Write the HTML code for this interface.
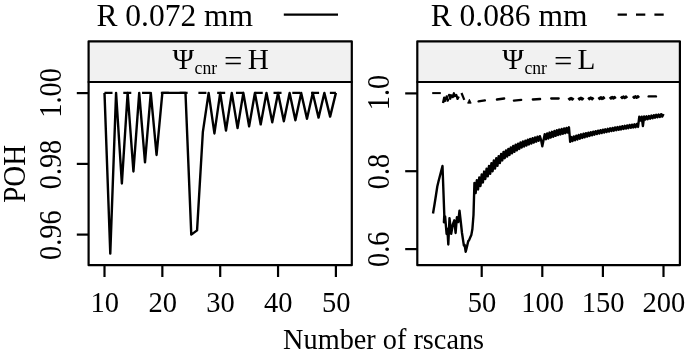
<!DOCTYPE html>
<html><head><meta charset="utf-8"><title>POH vs number of rscans</title>
<style>
html,body{margin:0;padding:0;background:#fff;}
svg{display:block;}
text{font-family:"Liberation Serif", serif;fill:#000;}
.l{stroke:#000;stroke-width:2.2;fill:none;}
.b{stroke:#000;stroke-width:2.2;stroke-linejoin:round;}
.d{stroke:#000;stroke-width:2.4;fill:none;stroke-linejoin:round;stroke-linecap:butt;}
</style></head>
<body>
<svg width="685" height="355" viewBox="0 0 685 355">
<rect x="0" y="0" width="685" height="355" fill="#fff"/>
<text transform="translate(96.40,25.5) scale(0.998,1)" font-size="31.6">R 0.072 mm</text>
<line x1="283.8" y1="14.7" x2="338" y2="14.7" class="l"/>
<text transform="translate(430.70,25.5) scale(0.998,1)" font-size="31.6">R 0.086 mm</text>
<line x1="617.6" y1="14.7" x2="672" y2="14.7" class="l" stroke-dasharray="9.3 9.1"/>
<rect x="88.6" y="41.3" width="263.20" height="40.70" fill="#f1f1f1" class="b"/>
<rect x="88.6" y="82.0" width="263.20" height="183.20" fill="none" class="b"/>
<rect x="417.3" y="41.3" width="262.60" height="40.70" fill="#f1f1f1" class="b"/>
<rect x="417.3" y="82.0" width="262.60" height="183.20" fill="none" class="b"/>
<text transform="translate(0.00,68.8)" font-size="29.6"><tspan x="172.4" textLength="21.6" lengthAdjust="spacingAndGlyphs">Ψ</tspan><tspan x="194.6" dy="4.8" font-size="18.3" textLength="22.6" lengthAdjust="spacingAndGlyphs">cnr</tspan><tspan x="218.5" dy="-2.5" textLength="6" lengthAdjust="spacingAndGlyphs"> </tspan><tspan x="224.1" textLength="18.4" lengthAdjust="spacingAndGlyphs">=</tspan><tspan x="242.5" dy="-2.3" textLength="5.3" lengthAdjust="spacingAndGlyphs"> </tspan><tspan x="247.8" textLength="21.10" lengthAdjust="spacingAndGlyphs">H</tspan></text>
<text transform="translate(329.80,68.8)" font-size="29.6"><tspan x="172.4" textLength="21.6" lengthAdjust="spacingAndGlyphs">Ψ</tspan><tspan x="194.6" dy="4.8" font-size="18.3" textLength="22.6" lengthAdjust="spacingAndGlyphs">cnr</tspan><tspan x="218.5" dy="-2.5" textLength="6" lengthAdjust="spacingAndGlyphs"> </tspan><tspan x="224.1" textLength="18.4" lengthAdjust="spacingAndGlyphs">=</tspan><tspan x="242.5" dy="-2.3" textLength="5.3" lengthAdjust="spacingAndGlyphs"> </tspan><tspan x="247.8" textLength="17.85" lengthAdjust="spacingAndGlyphs">L</tspan></text>
<line x1="104.50" y1="265.2" x2="104.50" y2="277.0" class="l"/>
<text transform="translate(104.80,312.10) scale(0.957,1)" font-size="29.8" text-anchor="middle">10</text>
<line x1="162.35" y1="265.2" x2="162.35" y2="277.0" class="l"/>
<text transform="translate(162.65,312.10) scale(0.957,1)" font-size="29.8" text-anchor="middle">20</text>
<line x1="220.20" y1="265.2" x2="220.20" y2="277.0" class="l"/>
<text transform="translate(220.50,312.10) scale(0.957,1)" font-size="29.8" text-anchor="middle">30</text>
<line x1="278.05" y1="265.2" x2="278.05" y2="277.0" class="l"/>
<text transform="translate(278.35,312.10) scale(0.957,1)" font-size="29.8" text-anchor="middle">40</text>
<line x1="335.90" y1="265.2" x2="335.90" y2="277.0" class="l"/>
<text transform="translate(336.20,312.10) scale(0.957,1)" font-size="29.8" text-anchor="middle">50</text>
<line x1="481.70" y1="265.2" x2="481.70" y2="277.0" class="l"/>
<text transform="translate(482.00,312.10) scale(0.957,1)" font-size="29.8" text-anchor="middle">50</text>
<line x1="542.30" y1="265.2" x2="542.30" y2="277.0" class="l"/>
<text transform="translate(542.60,312.10) scale(0.957,1)" font-size="29.8" text-anchor="middle">100</text>
<line x1="602.90" y1="265.2" x2="602.90" y2="277.0" class="l"/>
<text transform="translate(603.20,312.10) scale(0.957,1)" font-size="29.8" text-anchor="middle">150</text>
<line x1="663.50" y1="265.2" x2="663.50" y2="277.0" class="l"/>
<text transform="translate(663.80,312.10) scale(0.957,1)" font-size="29.8" text-anchor="middle">200</text>
<line x1="76.8" y1="234.60" x2="88.6" y2="234.60" class="l"/>
<text transform="translate(61.30,235.20) scale(1.105,1) rotate(-90)" font-size="28.3" text-anchor="middle">0.96</text>
<line x1="76.8" y1="163.90" x2="88.6" y2="163.90" class="l"/>
<text transform="translate(61.30,164.50) scale(1.105,1) rotate(-90)" font-size="28.3" text-anchor="middle">0.98</text>
<line x1="76.8" y1="93.10" x2="88.6" y2="93.10" class="l"/>
<text transform="translate(61.30,92.95) scale(1.105,1) rotate(-90)" font-size="28.3" text-anchor="middle">1.00</text>
<line x1="405.2" y1="249.10" x2="417.3" y2="249.10" class="l"/>
<text transform="translate(389.40,249.30) scale(1.105,1) rotate(-90)" font-size="28.3" text-anchor="middle">0.6</text>
<line x1="405.2" y1="171.20" x2="417.3" y2="171.20" class="l"/>
<text transform="translate(389.40,171.50) scale(1.105,1) rotate(-90)" font-size="28.3" text-anchor="middle">0.8</text>
<line x1="405.2" y1="93.40" x2="417.3" y2="93.40" class="l"/>
<text transform="translate(389.40,92.50) scale(1.105,1) rotate(-90)" font-size="28.3" text-anchor="middle">1.0</text>
<text transform="translate(25.30,173.80) scale(1.09,1) rotate(-90)" font-size="29.0" text-anchor="middle">POH</text>
<text transform="translate(383.60,349.00) scale(0.972,1)" font-size="29.1" text-anchor="middle">Number of rscans</text>
<polyline points="104.50,92.90 110.28,253.64 116.07,92.90 121.86,183.49 127.64,92.90 133.43,171.51 139.21,92.90 145.00,162.34 150.78,92.90 156.56,154.94 162.35,92.90 168.13,92.90 173.92,92.90 179.70,92.90 185.49,92.90 191.28,234.61 197.06,230.38 202.84,132.20 208.63,92.90 214.42,133.44 220.20,92.90 225.99,130.55 231.77,92.90 237.56,128.11 243.34,92.90 249.12,126.42 254.91,92.90 260.69,124.41 266.48,92.90 272.26,122.33 278.05,92.90 283.84,121.31 289.62,92.90 295.40,120.32 301.19,92.90 306.98,118.74 312.76,92.90 318.55,117.65 324.33,92.90 330.12,116.62 335.90,92.90" class="d"/>
<line x1="104.50" y1="92.90" x2="335.90" y2="92.90" class="d" stroke-dasharray="8.0 10.78"/>
<polyline points="433.00,213.50 434.50,204.50 436.00,195.00 437.30,186.50 438.60,181.00 439.90,176.00 441.20,171.00 442.50,166.00 444.30,215.00 443.90,222.30 445.10,216.40 446.60,234.00 447.40,229.00 448.30,244.50 449.50,218.10 451.20,233.90 452.80,224.50 454.30,220.30 455.60,233.00 456.90,217.30 458.20,222.00 459.50,210.70 460.80,222.00 462.00,233.00 463.90,245.60 464.60,244.80 465.70,251.80 466.90,247.00 468.20,241.20 469.00,240.40 470.20,237.50 471.30,235.10 472.40,229.00 473.50,215.00 474.43,183.00 475.64,193.10 476.85,180.20 478.06,189.45 479.28,177.33 480.49,185.96 481.70,174.45 482.91,182.47 484.12,171.58 485.34,178.97 486.55,168.77 487.76,176.35 488.97,166.03 490.18,173.78 491.40,163.29 492.61,171.20 493.82,160.55 495.03,168.58 496.24,158.30 497.46,165.87 498.67,156.17 499.88,163.15 501.09,154.04 502.30,160.43 503.52,151.91 504.73,158.16 505.94,150.35 507.15,156.54 508.36,148.85 509.58,154.93 510.79,147.35 512.00,153.32 513.21,145.95 514.42,151.84 515.64,144.80 516.85,150.39 518.06,143.65 519.27,148.93 520.48,142.50 521.70,147.55 522.91,141.52 524.12,146.52 525.33,140.63 526.54,145.49 527.76,139.74 528.97,144.46 530.18,138.87 531.39,143.50 532.60,138.17 533.82,142.58 535.03,137.48 536.24,141.66 537.45,136.78 538.66,140.75 539.88,136.16 541.09,140.10 542.30,146.30 543.51,140.20 544.72,134.17 545.94,139.34 547.15,133.37 548.36,138.48 549.57,132.59 550.78,137.62 552.00,131.80 553.21,136.75 554.42,131.02 555.63,135.89 556.84,130.24 558.06,135.07 559.27,129.59 560.48,134.45 561.69,129.01 562.90,133.82 564.12,128.43 565.33,133.19 566.54,127.85 567.75,132.56 568.96,127.30 570.18,141.80 571.39,137.06 572.60,141.03 573.81,136.38 575.02,140.26 576.24,135.70 577.45,139.50 578.66,135.03 579.87,138.73 581.08,134.35 582.30,137.96 583.51,133.67 584.72,137.25 585.93,133.15 587.14,136.62 588.36,132.65 589.57,135.99 590.78,132.15 591.99,135.36 593.20,131.65 594.42,134.73 595.63,131.15 596.84,134.10 598.05,130.67 599.26,133.60 600.48,130.20 601.69,133.11 602.90,129.74 604.11,132.61 605.32,129.27 606.54,132.12 607.75,128.81 608.96,131.62 610.17,128.34 611.38,131.12 612.60,127.88 613.81,130.67 615.02,127.47 616.23,130.26 617.44,127.05 618.66,129.84 619.87,126.64 621.08,129.43 622.29,126.22 623.50,129.02 624.72,125.81 625.93,128.60 627.14,125.40 628.35,128.19 629.56,124.98 630.78,127.81 631.99,124.63 633.20,127.51 634.41,124.30 635.62,127.20 636.84,123.97 638.05,126.90 639.26,116.80 640.47,120.56 641.68,116.65 642.90,126.10 644.11,116.51 645.32,119.62 646.53,116.36 647.74,119.15 648.96,116.03 650.17,118.67 651.38,115.58 652.59,118.19 653.80,115.13 655.02,117.72 656.23,114.79 657.44,117.35 658.65,114.49 659.86,116.97 661.08,114.20 662.29,116.59 663.50,113.90" class="d"/>
<line x1="432.2" y1="93.1" x2="440.8" y2="93.1" stroke="#000" stroke-width="2"/>
<polyline points="443.00,103.00 444.21,97.59 445.42,101.91 446.64,96.38 447.85,100.56 449.06,94.96 450.27,98.75 451.48,93.65 452.70,97.11 453.91,93.29 455.12,97.64 456.33,95.01 457.54,98.88 458.76,96.52" fill="none" stroke="#000" stroke-width="2.3" stroke-linejoin="round" stroke-dasharray="10 2.2"/>
<line x1="461.5" y1="93.0" x2="464.3" y2="99.8" stroke="#000" stroke-width="2.2"/>
<polygon points="467.6,103.2 469.4,99.2 471.2,103.2" fill="#000" stroke="#000" stroke-width="0.8" stroke-linejoin="round"/>
<line x1="478.50" y1="101.39999999999999" x2="484.90" y2="100.39999999999999" stroke="#000" stroke-width="2.3" stroke-linecap="round"/>
<line x1="496.90" y1="99.5" x2="504.20" y2="98.5" stroke="#000" stroke-width="2.3" stroke-linecap="round"/>
<line x1="513.90" y1="100.6" x2="521.20" y2="99.89999999999999" stroke="#000" stroke-width="2.3" stroke-linecap="round"/>
<line x1="532.80" y1="99.5" x2="540.10" y2="99.0" stroke="#000" stroke-width="2.3" stroke-linecap="round"/>
<line x1="551.20" y1="98.5" x2="558.70" y2="98.5" stroke="#000" stroke-width="2.3" stroke-linecap="round"/>
<polyline class="d" points="568.40,98.00 569.70,99.60 571.00,98.00 572.30,99.60 573.60,98.00"/>
<polyline class="d" points="578.30,97.80 579.60,99.40 580.90,97.80 582.20,99.40 583.50,97.80"/>
<polyline class="d" points="588.20,97.60 589.53,99.20 590.85,97.60 592.17,99.20 593.50,97.60"/>
<polyline class="d" points="598.50,97.30 599.72,98.90 600.94,97.30 602.16,98.90 603.38,97.30 604.60,98.90"/>
<polyline class="d" points="609.80,97.00 610.98,98.60 612.16,97.00 613.34,98.60 614.52,97.00 615.70,98.60"/>
<polyline class="d" points="620.90,96.50 622.16,98.10 623.42,96.50 624.68,98.10 625.94,96.50 627.20,98.10"/>
<polyline class="d" points="632.90,96.20 634.14,97.80 635.38,96.20 636.62,97.80 637.86,96.20 639.10,97.80"/>
<line x1="648.70" y1="96.39999999999999" x2="655.90" y2="96.39999999999999" stroke="#000" stroke-width="2.4" stroke-linecap="round"/>
</svg>
</body></html>
